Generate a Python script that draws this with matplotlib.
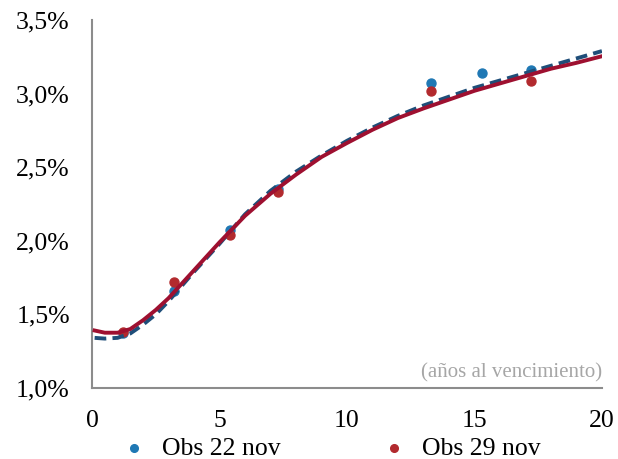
import matplotlib
matplotlib.use('Agg')
import matplotlib.pyplot as plt
from matplotlib.ticker import FuncFormatter

plt.rcParams['font.family'] = 'Liberation Serif'

# curvas ajustadas (plazo en años, tasa en %)
plazo_curva = [0.1, 0.5, 1, 1.5, 2, 2.5, 3, 3.5, 4, 4.5, 5, 6, 7, 8, 9, 10, 11, 12, 13, 14, 15, 16, 17, 18, 19, 20]
curva_22nov = [1.34, 1.335, 1.34, 1.37, 1.43, 1.50, 1.59, 1.69, 1.79, 1.885, 1.98, 2.18, 2.34, 2.47, 2.58, 2.68, 2.77, 2.85, 2.92, 2.98, 3.04, 3.09, 3.14, 3.19, 3.24, 3.29]
curva_29nov = [1.39, 1.375, 1.375, 1.40, 1.46, 1.53, 1.61, 1.705, 1.80, 1.895, 1.99, 2.17, 2.32, 2.45, 2.57, 2.665, 2.755, 2.835, 2.90, 2.96, 3.02, 3.07, 3.12, 3.17, 3.21, 3.255]

# observaciones
plazo_obs22 = [1.2, 3.2, 5.4, 7.3, 13.3, 15.3, 17.2]
tasa_obs22 = [1.37, 1.66, 2.07, 2.35, 3.07, 3.14, 3.16]
plazo_obs29 = [1.2, 3.2, 5.4, 7.3, 13.3, 17.2]
tasa_obs29 = [1.38, 1.72, 2.04, 2.33, 3.02, 3.085]

azul = '#1f78b4'
azul_osc = '#1f4e79'
rojo = '#9e1030'
rojo_obs = '#b22a2e'

fig = plt.figure(figsize=(6.18, 4.59), dpi=100)
ax = fig.add_axes([0.149, 0.155, 0.825, 0.801])

ax.scatter(plazo_obs22, tasa_obs22, s=42, color=azul, zorder=2, label='Obs 22 nov')
ax.scatter(plazo_obs29, tasa_obs29, s=42, color=rojo_obs, zorder=2, label='Obs 29 nov')
ax.plot(plazo_curva, curva_22nov, color=azul_osc, lw=2.8, ls=(0, (3, 1.6)), zorder=3)
ax.plot(plazo_curva, curva_29nov, color=rojo, lw=2.8, zorder=4)

ax.set_xlim(0, 20)
ax.set_ylim(1.0, 3.5)
ax.set_xticks([0, 5, 10, 15, 20])
ax.set_yticks([1.0, 1.5, 2.0, 2.5, 3.0, 3.5])
ax.yaxis.set_major_formatter(FuncFormatter(lambda v, p: ('%.1f%%' % v).replace('.', ',')))
ax.tick_params(length=0, labelsize=18.5)
ax.tick_params(axis='x', pad=16)
ax.tick_params(axis='y', pad=16)
for s in ['top', 'right']:
    ax.spines[s].set_visible(False)
for s in ['left', 'bottom']:
    ax.spines[s].set_color('#8c8c8c')
    ax.spines[s].set_linewidth(1.5)

ax.text(20.0, 1.035, '(años al vencimiento)', color='#a6a6a6', fontsize=15,
        ha='right', va='bottom')

fig.legend(loc='lower center', ncol=2, frameon=False, fontsize=18.5,
           bbox_to_anchor=(0.535, -0.052), columnspacing=3.9, handlelength=1.0,
           handletextpad=0.6, scatterpoints=1, markerscale=0.85)

plt.savefig('out.png', dpi=100)
